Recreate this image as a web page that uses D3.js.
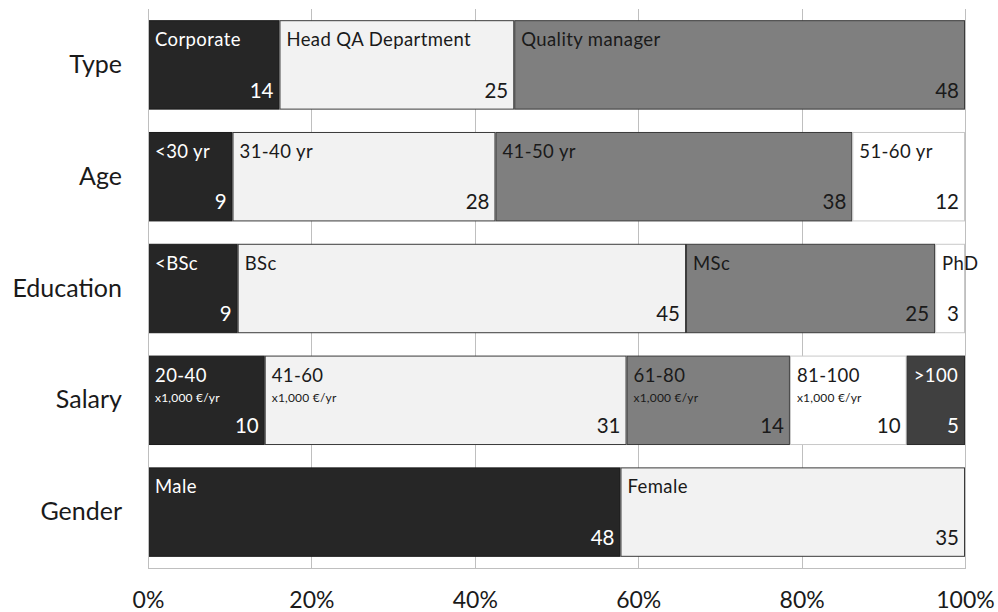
<!DOCTYPE html>
<html>
<head>
<meta charset="utf-8">
<script src="https://cdn.jsdelivr.net/npm/d3@7"></script>
<style>
  html, body { margin: 0; padding: 0; background: #ffffff; }
  svg { display: block; font-family: Lato, "Open Sans", sans-serif; }
</style>
</head>
<body>
<svg id="chart" width="998" height="612"></svg>
<script>
// ---- data ----
const categories = ["Type", "Age", "Education", "Salary", "Gender"];

const typeLabels = ["Corporate", "Head QA Department", "Quality manager"];
const typeValues = [14, 25, 48];

const ageLabels = ["<30 yr", "31-40 yr", "41-50 yr", "51-60 yr"];
const ageValues = [9, 28, 38, 12];

const educationLabels = ["<BSc", "BSc", "MSc", "PhD"];
const educationValues = [9, 45, 25, 3];

const salaryLabels = ["20-40", "41-60", "61-80", "81-100", ">100"];
const salarySubLabels = ["x1,000 €/yr", "x1,000 €/yr", "x1,000 €/yr", "x1,000 €/yr", ""];
const salaryValues = [10, 31, 14, 10, 5];

const genderLabels = ["Male", "Female"];
const genderValues = [48, 35];

const xTicks = [0, 0.2, 0.4, 0.6, 0.8, 1.0];

(function () {
// ---- build rows ----
const rows = [
  { cat: "Type", labels: typeLabels, values: typeValues },
  { cat: "Age", labels: ageLabels, values: ageValues },
  { cat: "Education", labels: educationLabels, values: educationValues },
  { cat: "Salary", labels: salaryLabels, values: salaryValues, sub: salarySubLabels },
  { cat: "Gender", labels: genderLabels, values: genderValues }
];

const fills = ["#262626", "#f2f2f2", "#7f7f7f", "#ffffff", "#404040"];
const textFill = ["#ffffff", "#1a1a1a", "#1a1a1a", "#1a1a1a", "#ffffff"];
const strokes = ["#1a1a1a", "#3a3a3a", "#3a3a3a", "#c8c8c8", "#2a2a2a"];

const svg = d3.select("#chart");
const mLeft = 148, mRight = 965, mTop = 9, mBottom = 568;

const x = d3.scaleLinear().domain([0, 1]).range([mLeft, mRight]);
const y = d3.scaleBand().domain(categories).range([mTop, mBottom])
  .paddingInner(0.2).paddingOuter(0.1);

// gridlines
svg.append("g").selectAll("line").data(xTicks).join("line")
  .attr("x1", d => Math.round(x(d)) + 0.5).attr("x2", d => Math.round(x(d)) + 0.5)
  .attr("y1", mTop).attr("y2", mBottom)
  .attr("stroke", "#bfbfbf").attr("stroke-width", 1);

// bottom axis line
svg.append("line").attr("x1", mLeft).attr("x2", mRight + 1).attr("y1", mBottom + 0.5).attr("y2", mBottom + 0.5)
  .attr("stroke", "#bfbfbf").attr("stroke-width", 1);

// bottom axis labels
const xAxis = d3.axisBottom(x).tickValues(xTicks).tickFormat(d3.format(".0%")).tickSize(0).tickPadding(0);
const gx = svg.append("g").attr("transform", `translate(0,${mBottom})`).call(xAxis);
gx.select(".domain").remove();
gx.selectAll("text").attr("dy", null).attr("y", 40)
  .attr("font-size", 23).attr("fill", "#1a1a1a").attr("font-family", "Lato, sans-serif");

// left axis labels
const yAxis = d3.axisLeft(y).tickSize(0).tickPadding(26);
const gy = svg.append("g").attr("transform", `translate(${mLeft},0)`).call(yAxis);
gy.select(".domain").remove();
gy.selectAll("text").attr("font-size", 25).attr("fill", "#1a1a1a").attr("font-family", "Lato, sans-serif");

// bars
rows.forEach(row => {
  const total = d3.sum(row.values);
  const cum = d3.cumsum(row.values).map(c => c / total);
  const segs = row.values.map((v, i) => ({
    i, v, label: row.labels[i], sub: row.sub ? row.sub[i] : "",
    x0: i === 0 ? 0 : cum[i - 1], x1: cum[i]
  }));
  const g = svg.append("g");
  const y0 = y(row.cat), h = y.bandwidth();

  g.selectAll("rect").data(segs).join("rect")
    .attr("x", d => x(d.x0) + 0.5)
    .attr("y", y0 + 0.5)
    .attr("width", d => x(d.x1) - x(d.x0) - 1)
    .attr("height", h - 1)
    .attr("fill", d => fills[d.i])
    .attr("stroke", d => strokes[d.i])
    .attr("stroke-width", 1);

  g.selectAll("text.lbl").data(segs).join("text").attr("class", "lbl")
    .attr("x", d => x(d.x0) + 7)
    .attr("y", y0 + 26)
    .attr("font-size", 18.5)
    .attr("letter-spacing", 0.4)
    .attr("fill", d => textFill[d.i])
    .text(d => d.label);

  g.selectAll("text.sub").data(segs.filter(d => d.sub)).join("text").attr("class", "sub")
    .attr("x", d => x(d.x0) + 7)
    .attr("y", y0 + 46)
    .attr("font-size", 12)
    .attr("letter-spacing", 0.2)
    .attr("fill", d => textFill[d.i])
    .text(d => d.sub);

  g.selectAll("text.val").data(segs).join("text").attr("class", "val")
    .attr("x", d => x(d.x1) - 6)
    .attr("y", y0 + h - 12)
    .attr("text-anchor", "end")
    .attr("font-size", 20.5)
    .attr("fill", d => textFill[d.i])
    .text(d => d.v);
});

// left border line on top
svg.append("line").attr("x1", mLeft + 0.5).attr("x2", mLeft + 0.5).attr("y1", mTop).attr("y2", mBottom + 1)
  .attr("stroke", "#bfbfbf").attr("stroke-width", 1);
})();
</script>
</body>
</html>
